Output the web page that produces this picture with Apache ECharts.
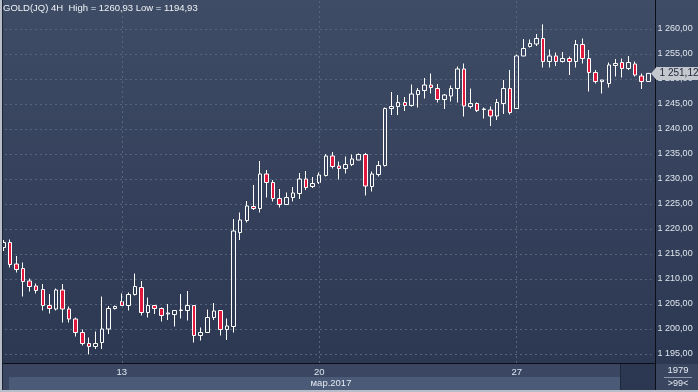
<!DOCTYPE html>
<html><head><meta charset="utf-8">
<script src="https://cdn.jsdelivr.net/npm/echarts@6/dist/echarts.min.js"></script>
<style>html,body{margin:0;padding:0;background:#2f3a54}#c{width:698px;height:392px}</style>
</head><body><div id="c"></div>
<script>
// ---- data ----
const opens  = [1216.3,1217.3,1213.0,1212.1,1209.6,1208.6,1207.9,1204.7,1204.0,1207.8,1204.0,1202.0,1199.3,1197.1,1196.5,1197.3,1200.0,1204.1,1205.5,1204.7,1206.9,1208.3,1203.3,1204.7,1204.1,1203.0,1202.9,1203.7,1203.7,1204.7,1198.7,1199.3,1202.3,1203.7,1199.9,1200.5,1219.3,1221.7,1224.5,1224.1,1231.0,1229.3,1226.1,1224.9,1226.3,1227.1,1230.0,1228.5,1229.3,1230.7,1234.6,1232.6,1232.1,1232.9,1233.8,1234.9,1228.5,1230.9,1232.7,1244.1,1244.5,1245.3,1244.7,1246.9,1247.7,1248.8,1248.1,1245.9,1246.6,1248.1,1252.0,1244.5,1245.1,1243.9,1243.8,1242.6,1245.1,1248.1,1244.1,1254.6,1256.5,1257.0,1258.1,1253.5,1254.6,1253.5,1254.1,1253.5,1256.9,1254.1,1251.3,1249.5,1249.1,1252.7,1253.3,1252.1,1253.0,1250.6,1249.5];
const closes = [1217.3,1212.9,1211.9,1209.5,1208.5,1207.7,1204.7,1204.1,1207.8,1204.0,1202.0,1199.3,1197.1,1196.5,1197.1,1200.0,1204.1,1204.5,1204.7,1206.9,1208.5,1203.3,1204.7,1204.1,1202.7,1203.2,1203.7,1203.8,1204.7,1198.7,1199.3,1202.3,1203.6,1199.9,1200.6,1219.6,1221.8,1224.6,1224.1,1231.0,1229.3,1226.1,1224.9,1226.3,1227.2,1230.0,1228.3,1229.1,1230.8,1234.6,1232.5,1232.1,1232.9,1234.0,1234.9,1228.6,1231.0,1232.7,1244.1,1244.5,1245.3,1244.7,1247.0,1247.7,1248.8,1248.3,1245.9,1246.8,1248.1,1252.0,1244.6,1245.1,1243.7,1244.0,1242.6,1245.3,1248.1,1243.3,1254.6,1256.1,1257.1,1258.1,1253.5,1254.6,1253.5,1254.1,1253.5,1256.9,1254.1,1251.3,1249.5,1249.8,1252.8,1253.1,1252.1,1253.3,1250.8,1249.5,1251.12];
const lows   = [1215.6,1212.3,1211.3,1206.5,1207.5,1207.1,1203.7,1203.1,1203.7,1201.3,1201.3,1198.5,1196.7,1194.93,1196.0,1196.0,1199.0,1203.9,1204.7,1203.7,1206.7,1202.7,1202.3,1203.0,1201.5,1201.8,1200.5,1202.1,1201.7,1197.3,1197.7,1199.3,1201.8,1198.7,1197.8,1199.3,1217.8,1221.3,1223.8,1223.3,1226.3,1225.5,1224.3,1224.8,1225.5,1226.0,1227.8,1228.2,1229.0,1230.5,1232.1,1229.9,1231.1,1232.6,1233.8,1226.7,1227.5,1230.5,1232.5,1242.8,1242.8,1243.6,1244.5,1244.3,1246.1,1247.1,1245.3,1244.0,1245.5,1245.3,1242.5,1244.1,1243.4,1242.1,1240.6,1241.8,1243.0,1242.9,1244.1,1254.6,1256.3,1256.6,1252.3,1252.3,1252.6,1253.3,1250.8,1252.3,1253.1,1247.5,1249.1,1247.1,1248.3,1250.5,1250.3,1251.8,1250.5,1248.0,1249.5];
const highs  = [1217.8,1217.9,1214.6,1213.3,1210.1,1209.1,1209.0,1207.0,1208.1,1209.0,1204.5,1202.3,1199.9,1198.3,1199.5,1206.5,1204.6,1204.7,1207.1,1207.3,1211.1,1209.6,1206.3,1204.7,1204.3,1205.0,1203.7,1207.0,1207.6,1204.7,1200.3,1203.9,1205.2,1203.7,1202.1,1222.0,1223.3,1225.6,1228.8,1233.6,1231.8,1229.8,1228.0,1227.3,1228.4,1231.2,1231.6,1230.4,1231.3,1235.0,1235.4,1233.5,1234.5,1234.9,1235.1,1235.2,1231.5,1233.6,1244.3,1247.4,1246.8,1246.4,1248.9,1248.2,1250.2,1251.1,1249.0,1247.0,1248.7,1252.5,1253.1,1248.1,1245.3,1244.3,1244.5,1246.0,1249.8,1251.8,1254.9,1258.0,1257.9,1259.0,1260.93,1255.9,1255.3,1255.4,1254.5,1257.8,1258.1,1255.8,1251.8,1249.8,1253.3,1254.0,1254.1,1254.6,1253.5,1251.1,1251.2];
const tickIndex  = [18, 48, 78];
const tickLabels = ['13', '20', '27'];
const monthLabel = 'мар.2017';
const titleText  = 'GOLD(JQ) 4H  High = 1260,93 Low = 1194,93';
const barCountText = '1979';
const zoomText = '>99<';
const yMin = 1195, yMax = 1260, yStep = 5;

// ---- build ----
const categories = opens.map((_, i) => String(i));
const ohlc = opens.map((o, i) => [o, closes[i], lows[i], highs[i]]);
const lastPrice = closes[closes.length - 1];
const fmt = v => {
  const s = Number(v).toFixed(2).split('.');
  return s[0].replace(/\B(?=(\d{3})+(?!\d))/g, ' ') + ',' + s[1];
};
const FONT = 'Liberation Sans';
const GL = -0.6, GW = 652.2;
const PX = 5; // px per unit
const g0Top = 0, g0H = 363;
const g1Top = 29, g1H = (yMax - yMin) * PX;

const chart = echarts.init(document.getElementById('c'), null, {renderer: 'canvas'});
const option = {
  animation: false,
  backgroundColor: new echarts.graphic.LinearGradient(0, 0, 0, 1, [
    {offset: 0, color: '#3f4c66'}, {offset: 1, color: '#2b3651'}]),
  title: {text: titleText, left: 3, top: 3, padding: 0,
    textStyle: {color: '#eef2f6', fontSize: 9.5, fontWeight: 'normal', fontFamily: FONT}},
  grid: [
    {left: GL, top: g0Top, width: GW, height: g0H},
    {left: GL, top: g1Top, width: GW, height: g1H}
  ],
  xAxis: [
    {type: 'category', gridIndex: 0, data: categories, boundaryGap: true,
     axisLine: {show: false}, axisTick: {show: false}, splitLine: {show: false},
     axisLabel: {interval: (i) => tickIndex.includes(i),
       formatter: (v, i) => { const k = tickIndex.indexOf(i); return k >= 0 ? tickLabels[k] : ''; },
       color: '#dbe5f0', fontSize: 9.5, fontFamily: FONT, margin: 4}},
    {type: 'category', gridIndex: 1, data: categories, show: false}
  ],
  yAxis: [
    {type: 'value', gridIndex: 0, min: yMin - (g0H - g1Top - g1H) / PX, max: yMax + g1Top / PX, show: false},
    {type: 'value', gridIndex: 1, min: yMin, max: yMax, interval: yStep, position: 'right',
     axisLine: {show: false}, axisTick: {show: false},
     splitLine: {show: true, lineStyle: {color: '#56647e', type: [2, 3], width: 1}},
     axisLabel: {color: '#dfe6ee', fontSize: 9, fontFamily: FONT, margin: 6, formatter: fmt}}
  ],
  series: [{
    type: 'candlestick', xAxisIndex: 0, yAxisIndex: 0, data: ohlc, barWidth: 4,
    itemStyle: {color: 'rgba(0,0,0,0)', color0: '#e2173c', borderColor: '#ffffff', borderColor0: '#ffffff', borderWidth: 1},
    markLine: {
      silent: true, symbol: ['none', 'none'], animation: false,
      label: {show: false},
      lineStyle: {color: '#56647e', type: [2, 3], width: 1},
      data: tickIndex.map(i => ({xAxis: categories[i]})).concat([{
        yAxis: lastPrice,
        lineStyle: {color: 'rgba(0,0,0,0)', width: 0},
        label: {show: true, position: 'end', distance: 5, formatter: () => fmt(lastPrice),
          backgroundColor: '#c3c7ce', color: '#1c2436', fontSize: 10, fontFamily: FONT,
          padding: [2, 4, 1, 3]}
      }])
    }
  }]
};
chart.setOption(option);

const py = chart.convertToPixel({yAxisIndex: 0}, lastPrice);
const rect = (x, y, w, h, fill, z) => ({type: 'rect', shape: {x, y, width: w, height: h}, style: {fill}, z: z === undefined ? -5 : z, silent: true});
chart.setOption({graphic: [
  rect(3, 364, 652, 13, '#3b4762'),
  rect(3, 377, 6, 13, '#3b4762'),
  rect(9, 377, 611, 13, '#4b5a76'),
  rect(620, 364, 1, 26, '#1f2738'),
  rect(621, 364, 34, 26, '#2c3751'),
  rect(656, 364, 42, 26, '#3a465f'),
  rect(0, 363, 655, 1, '#0b0f18', 5),
  rect(655, 0, 1, 390, '#0b0f18', 5),
  rect(0, 0, 2, 392, '#b7bec9', 5),
  rect(2, 0, 1, 390, '#1c2333', 5),
  rect(0, 390, 698, 2, '#b7bec9', 5),
  rect(664, 377, 28, 1, '#8e99ab', 5),
  {type: 'text', x: 331, y: 383.5, z: 5, silent: true, style: {text: monthLabel, fill: '#e3eaf2', font: '9.5px ' + FONT, align: 'center', verticalAlign: 'middle'}},
  {type: 'text', x: 678, y: 370, z: 5, silent: true, style: {text: barCountText, fill: '#e3eaf2', font: '9.5px ' + FONT, align: 'center', verticalAlign: 'middle'}},
  {type: 'text', x: 678, y: 384, z: 5, silent: true, style: {text: zoomText, fill: '#e3eaf2', font: '9px ' + FONT, align: 'center', verticalAlign: 'middle'}},
  {type: 'polygon', z: 5, silent: true, shape: {points: [[651, py], [657, py - 7], [657, py + 7]]}, style: {fill: '#c3c7ce'}}
]});
</script>
</body></html>
